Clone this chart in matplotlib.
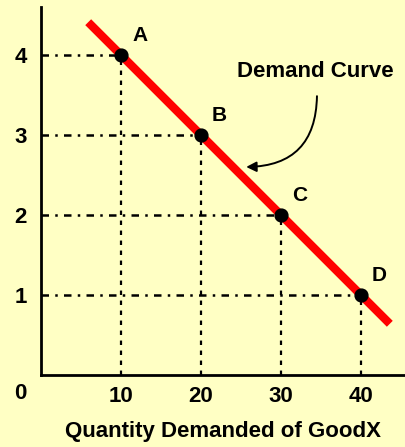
import matplotlib.pyplot as plt
import numpy as np

# demand schedule for good X
quantity = [10, 20, 30, 40]
price = [4, 3, 2, 1]
point_labels = ["A", "B", "C", "D"]
curve_q = [5.9, 43.6]
curve_p = [4.41, 0.64]

bg = "#FFFFC4"
plt.rcParams["font.family"] = ["Liberation Sans", "DejaVu Sans"]
plt.rcParams["font.weight"] = "bold"

fig = plt.figure(figsize=(4.05, 4.47), dpi=100, facecolor=bg)
ax = fig.add_axes([41 / 405, 72 / 447, 364 / 405, 368 / 447], facecolor=bg)
ax.set_xlim(0, 45.5)
ax.set_ylim(0, 4.6)

# guide lines from the axes to each point
for q, p in zip(quantity, price):
    ax.plot([0, q], [p, p], color="black", lw=1.8, linestyle=(0, (3, 2.5, 1, 2.5)))
    ax.plot([q, q], [0, p], color="black", lw=1.6, linestyle=(0, (2, 2.5)))

ax.plot(curve_q, curve_p, color="#FF0000", lw=6, solid_capstyle="butt", zorder=3)
ax.scatter(quantity, price, s=85, color="black", zorder=4)

for q, p, lab in zip(quantity, price, point_labels):
    ax.annotate(lab, (q, p), xytext=(8, 7), textcoords="offset points",
                fontsize=15, fontweight="bold", va="bottom", ha="left")

ax.text(34.3, 3.79, "Demand Curve", fontsize=16, fontweight="bold",
        ha="center", va="center")
ax.annotate("", xy=(25.3, 2.6), xytext=(34.5, 3.52),
            arrowprops=dict(arrowstyle="-|>", color="black", lw=1.4,
                            connectionstyle="arc3,rad=-0.5", mutation_scale=15))

ax.spines["top"].set_visible(False)
ax.spines["right"].set_visible(False)
ax.spines["left"].set_linewidth(2)
ax.spines["bottom"].set_linewidth(2)

ax.set_xticks(quantity)
ax.set_yticks(price)
ax.tick_params(length=0, labelsize=16, pad=10)
ax.tick_params(axis="x", pad=8)
ax.set_xticklabels([str(q) for q in quantity], fontweight="bold")
ax.set_yticklabels([str(p) for p in price], fontweight="bold")
ax.text(-2.6, -0.23, "0", fontsize=16, fontweight="bold", ha="center", va="center")

ax.set_xlabel("Quantity Demanded of GoodX", fontsize=16, fontweight="bold", labelpad=10)

fig.savefig("out.png", dpi=100, facecolor=bg)
